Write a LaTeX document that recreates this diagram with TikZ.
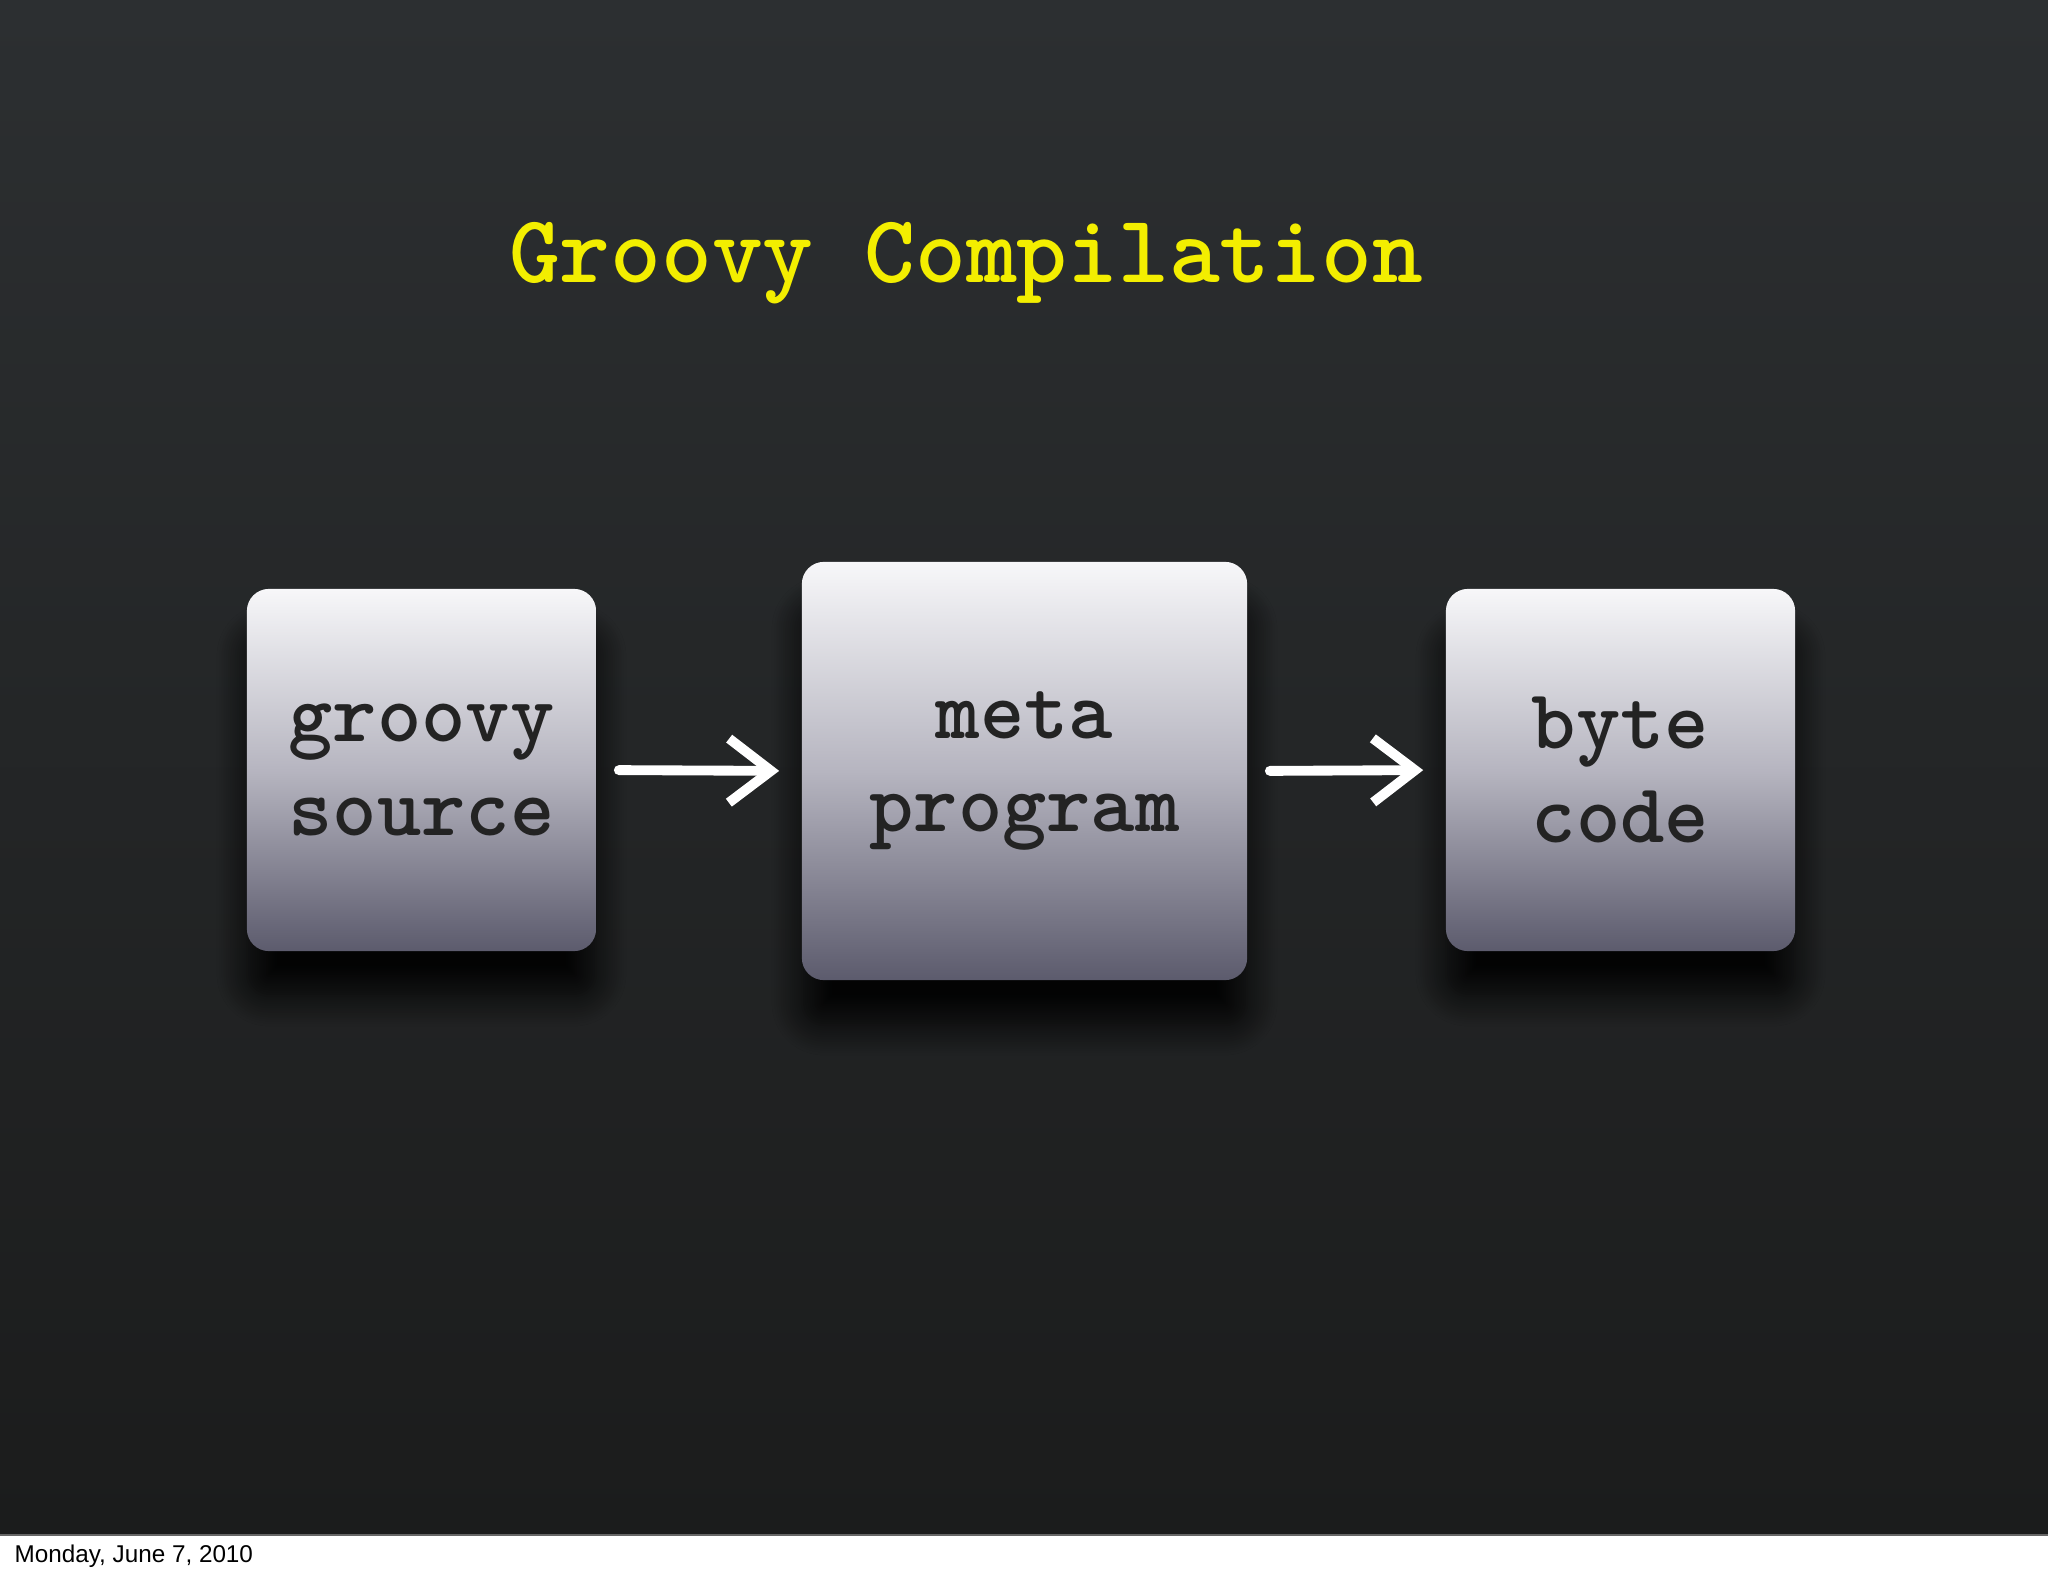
\documentclass[tikz,border=0pt]{standalone}
\usepackage{fontspec}
\usetikzlibrary{arrows.meta,shadows.blur}
\newfontfamily\datefont{Liberation Sans}
\definecolor{titleyellow}{HTML}{F3EE00}
\definecolor{boxtop}{HTML}{F7F7F9}
\definecolor{boxmid}{HTML}{B6B5C0}
\definecolor{boxbot}{HTML}{5C5B6D}
\definecolor{bgtop}{HTML}{2C2F31}
\definecolor{bgbot}{HTML}{1B1C1C}
\definecolor{boxtext}{HTML}{232323}

\tikzset{
  stage/.style={rectangle, rounded corners=0.22cm,
    top color=boxtop, bottom color=boxbot, middle color=boxmid,
    text=boxtext, align=center,
    font=\ttfamily\bfseries\fontsize{24}{26.5}\selectfont,
    blur shadow={shadow xshift=0cm, shadow yshift=-0.45cm,
      shadow opacity=90, shadow blur radius=0.3cm, shadow blur steps=14}},
  chalk/.style={draw=white, line width=2.8pt, line cap=round, line join=round,
    -{Straight Barb[length=0.42cm, width=0.64cm]},
    shorten <=0.22cm, shorten >=0.22cm}
}

\begin{document}
\begin{tikzpicture}[x=0.01cm, y=-0.01cm]
\useasboundingbox (0,0) rectangle (2048,1576);
% background
\fill[white] (0,0) rectangle (2048,1576);
\shade[top color=bgtop, bottom color=bgbot] (0,0) rectangle (2048,1534);
\fill[black!60] (0,1534) rectangle (2048,1536);

% title
\node[anchor=base, text=titleyellow, font=\ttfamily\bfseries\fontsize{27.5}{30}\selectfont] (title) at (966,282) {Groovy Compilation};

% stages
\node[stage, minimum width=3.49cm, minimum height=3.62cm] (src) at (421.5,770) {groovy\\source};
\node[stage, minimum width=4.45cm, minimum height=4.18cm] (meta) at (1024.5,771) {meta\\program};
\node[stage, minimum width=3.49cm, minimum height=3.62cm] (code) at (1620.5,770) {byte\\code};

% arrows
\draw[chalk] (src.east) -- (meta.west);
\draw[chalk] (meta.east) -- (code.west);

% footer
\node[anchor=base west, text=black, font=\datefont\fontsize{6.9}{8}\selectfont, inner sep=0pt] (date) at (14,1562) {Monday, June 7, 2010};
\end{tikzpicture}
\end{document}
